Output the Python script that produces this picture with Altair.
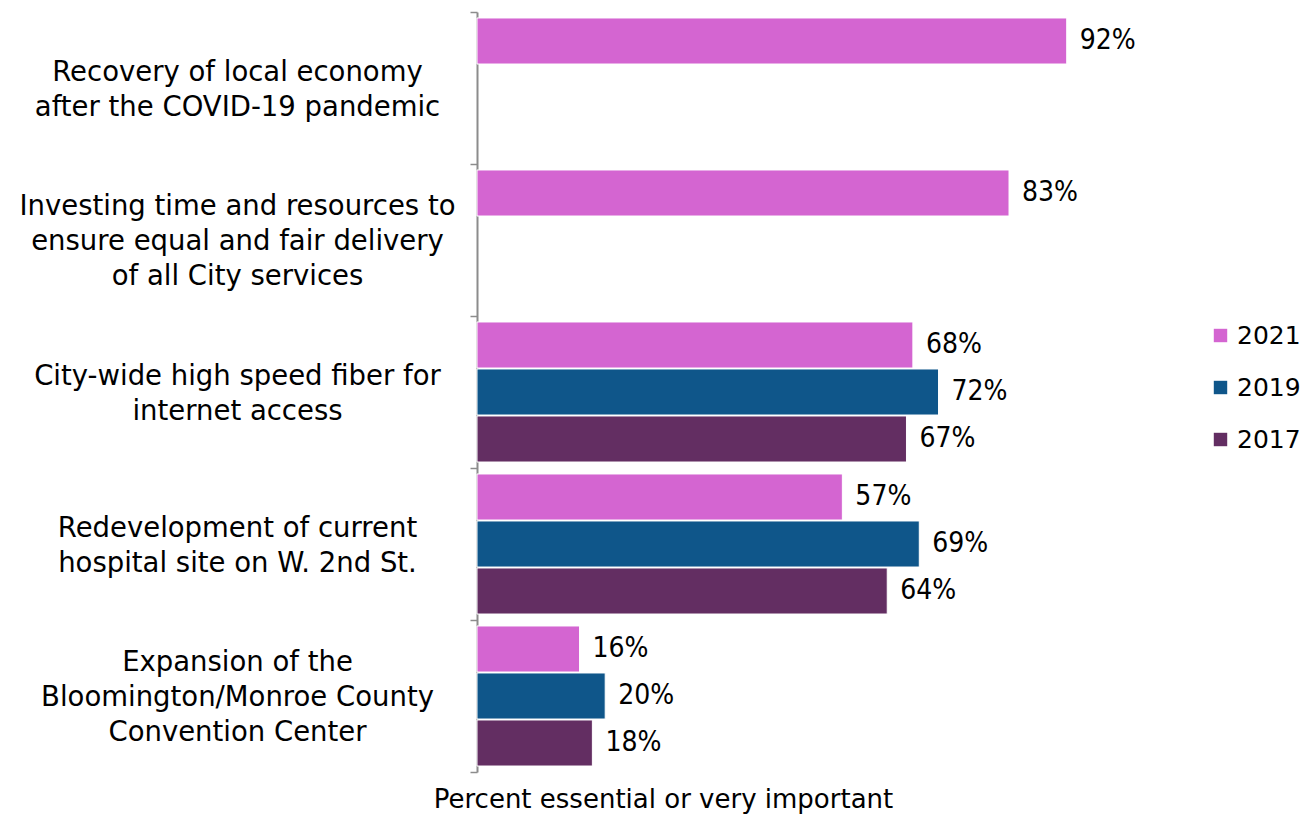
import altair as alt
import pandas as pd

categories = [
    "Recovery of local economy|after the COVID-19 pandemic",
    "Investing time and resources to|ensure equal and fair delivery|of all City services",
    "City-wide high speed fiber for|internet access",
    "Redevelopment of current|hospital site on W. 2nd St.",
    "Expansion of the|Bloomington/Monroe County|Convention Center",
]
years = ["2021", "2019", "2017"]
v2021 = [92, 83, 68, 57, 16]
v2019 = [None, None, 72, 69, 20]
v2017 = [None, None, 67, 64, 18]
colors = ["#D465D1", "#0F568A", "#632E62"]

rows = []
for yr, vals in zip(years, [v2021, v2019, v2017]):
    for c, v in zip(categories, vals):
        if v is not None:
            rows.append({"category": c, "year": yr, "value": v, "label": f"{v}%"})
df = pd.DataFrame(rows)

LABEL_FONT = "DejaVu Sans"
NUM_FONT = "Liberation Sans Narrow, DejaVu Sans Condensed, sans-serif"

y_enc = alt.Y(
    "category:N",
    sort=categories,
    scale=alt.Scale(domain=categories, paddingInner=0, paddingOuter=0),
    axis=alt.Axis(
        title=None,
        labelExpr="split(datum.label, '|')",
        labelAlign="center",
        labelBaseline="middle",
        labelOffset={
            "condition": {"test": "length(split(datum.label, '|')) == 3", "value": -34},
            "value": -16,
        },
        labelPadding=233,
        labelFontSize=27.5,
        labelFont=LABEL_FONT,
        labelColor="#000000",
        labelLineHeight=35,
        labelLimit=0,
        tickBand="extent",
        tickSize=7,
        tickWidth=1.5,
        tickColor="#8c8c8c",
        domainColor="#8c8c8c",
        domainWidth=2,
        grid=False,
    ),
)
yoff = alt.YOffset(
    "year:N",
    scale=alt.Scale(domain=years, paddingInner=0.02, paddingOuter=0.127),
)
x_enc = alt.X(
    "value:Q",
    scale=alt.Scale(domain=[0, 100], nice=False),
    axis=alt.Axis(
        labels=False,
        ticks=False,
        domain=False,
        grid=False,
        title="Percent essential or very important",
        titleFontSize=26,
        titleFont=LABEL_FONT,
        titleFontWeight="normal",
        titleColor="#000000",
        titleX=186,
        titleY=35,
        titleAlign="center",
        titleBaseline="alphabetic",
    ),
)

bars = alt.Chart(df).mark_bar(stroke="white", strokeWidth=1).encode(
    y=y_enc,
    yOffset=yoff,
    x=x_enc,
    color=alt.Color(
        "year:N",
        scale=alt.Scale(domain=years, range=colors),
        legend=alt.Legend(
            title=None,
            orient="none",
            legendX=731,
            legendY=311,
            symbolType="square",
            symbolSize=180,
            symbolStrokeWidth=0,
            labelFontSize=25,
            labelFont=LABEL_FONT,
            labelColor="#000000",
            rowPadding=26,
            labelOffset=4,
            labelLimit=0,
        ),
    ),
)

text = alt.Chart(df).mark_text(
    align="left", baseline="middle", dx=13, fontSize=28, font=NUM_FONT, color="#000000"
).encode(
    y=alt.Y("category:N", sort=categories),
    yOffset=alt.YOffset("year:N"),
    x=alt.X("value:Q"),
    text="label:N",
)

chart = (
    alt.layer(bars, text)
    .properties(
        width=641,
        height=760,
        padding={"top": 4, "left": 469, "right": 186, "bottom": 43},
        autosize=alt.AutoSizeParams(type="none"),
    )
    .configure_view(stroke=None)
)

chart.save("out.html", embed_options={"renderer": "svg", "actions": False})
